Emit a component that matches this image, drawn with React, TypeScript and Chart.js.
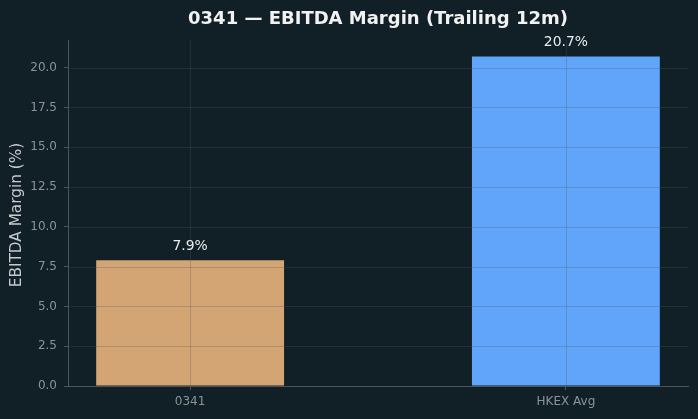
import React, { useEffect, useRef } from "react";
import { Chart, registerables } from "chart.js";

Chart.register(...registerables);

const categories: string[] = ["0341", "HKEX Avg"];
const margins: number[] = [7.9, 20.7];
const barColors: string[] = ["#d4a574", "#60a5fa"];
const yTicks: number[] = [0, 2.5, 5, 7.5, 10, 12.5, 15, 17.5, 20];
const titleText = "0341 \u2014 EBITDA Margin (Trailing 12m)";
const yLabel = "EBITDA Margin (%)";

const BG = "#111f26";
const SPINE = "#4f5457";
const GRID = "rgba(80,88,92,0.3)";
const TICK_COLOR = "#8b9398";
const FONT = "'DejaVu Sans', sans-serif";

const overlayPlugin = {
  id: "overlay",
  beforeDraw(chart: any) {
    const ctx = chart.ctx;
    ctx.save();
    ctx.fillStyle = BG;
    ctx.fillRect(0, 0, chart.width, chart.height);
    ctx.restore();
  },
  afterDatasetsDraw(chart: any) {
    const ctx = chart.ctx;
    const area = chart.chartArea;
    const xs = chart.scales.x;
    const ys = chart.scales.y;
    ctx.save();
    // grid on top of bars
    ctx.strokeStyle = GRID;
    ctx.lineWidth = 1;
    ctx.beginPath();
    yTicks.forEach((v) => {
      const y = Math.round(ys.getPixelForValue(v)) + 0.5;
      ctx.moveTo(area.left, y);
      ctx.lineTo(area.right, y);
    });
    categories.forEach((_, i) => {
      const x = Math.round(xs.getPixelForValue(i)) + 0.5;
      ctx.moveTo(x, area.top);
      ctx.lineTo(x, area.bottom);
    });
    ctx.stroke();
    // spines
    ctx.strokeStyle = SPINE;
    ctx.beginPath();
    ctx.moveTo(area.left + 0.5, area.top);
    ctx.lineTo(area.left + 0.5, area.bottom + 0.5);
    ctx.lineTo(area.right, area.bottom + 0.5);
    ctx.stroke();
    // value labels
    const meta = chart.getDatasetMeta(0);
    ctx.fillStyle = "#e8ecef";
    ctx.font = `13.9px ${FONT}`;
    ctx.textAlign = "center";
    ctx.textBaseline = "alphabetic";
    meta.data.forEach((bar: any, i: number) => {
      ctx.fillText(margins[i].toFixed(1) + "%", bar.x, bar.y - 10.5);
    });
    // title
    ctx.fillStyle = "#f2f2f2";
    ctx.font = `bold 18px ${FONT}`;
    ctx.fillText(titleText, (area.left + area.right) / 2, 24);
    // y label
    ctx.fillStyle = "#c4cacd";
    ctx.font = `15.3px ${FONT}`;
    ctx.translate(17, (area.top + area.bottom) / 2 + 2);
    ctx.rotate(-Math.PI / 2);
    ctx.textBaseline = "middle";
    ctx.fillText(yLabel, 0, 0);
    ctx.restore();
  },
};

export default function App() {
  const ref = useRef<HTMLCanvasElement | null>(null);
  useEffect(() => {
    if (!ref.current) return;
    const chart = new Chart(ref.current, {
      type: "bar",
      data: {
        datasets: [
          {
            data: margins.map((v, i) => ({ x: i, y: v })),
            backgroundColor: barColors,
            borderWidth: 0,
            barPercentage: 1,
            categoryPercentage: 0.5,
          },
        ],
      },
      options: {
        animation: false,
        responsive: false,
        maintainAspectRatio: false,
        devicePixelRatio: 1,
        layout: { padding: { top: 40, right: 10, left: 0, bottom: 0 } },
        plugins: {
          legend: { display: false },
          title: { display: false },
          tooltip: { enabled: false },
        },
        scales: {
          x: {
            type: "linear",
            offset: false,
            min: -0.325,
            max: 1.325,
            afterBuildTicks: (scale: any) => {
              scale.ticks = categories.map((_, i) => ({ value: i }));
            },
            afterFit: (scale: any) => {
              scale.height = 33;
            },
            ticks: {
              color: TICK_COLOR,
              font: { family: FONT, size: 12 },
              padding: 5,
              maxRotation: 0,
              autoSkip: false,
              callback: (v: any) => categories[Math.round(Number(v))] ?? "",
            },
            grid: {
              display: true,
              offset: false,
              drawOnChartArea: false,
              drawTicks: true,
              tickLength: 4,
              color: SPINE,
            },
            border: { display: true, color: SPINE },
          },
          y: {
            type: "linear",
            min: 0,
            max: 21.735,
            afterBuildTicks: (scale: any) => {
              scale.ticks = yTicks.map((v) => ({ value: v }));
            },
            afterFit: (scale: any) => {
              scale.width = 68;
            },
            ticks: {
              color: TICK_COLOR,
              font: { family: FONT, size: 12 },
              padding: 7,
              autoSkip: false,
              callback: (v: any) => Number(v).toFixed(1),
            },
            grid: {
              display: true,
              drawOnChartArea: false,
              drawTicks: true,
              tickLength: 4,
              color: SPINE,
            },
            border: { display: true, color: SPINE },
          },
        },
      },
      plugins: [overlayPlugin],
    } as any);
    return () => chart.destroy();
  }, []);
  return (
    <div style={{ position: "fixed", left: 0, top: 0, width: 698, height: 419, background: BG }}>
      <canvas ref={ref} width={698} height={419} style={{ display: "block", width: 698, height: 419 }} />
    </div>
  );
}
